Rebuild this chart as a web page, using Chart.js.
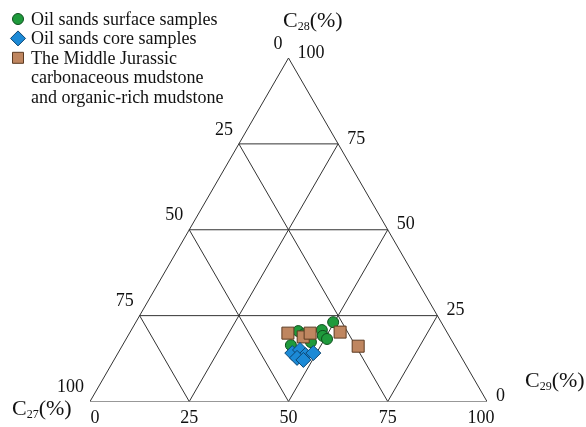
<!DOCTYPE html>
<html>
<head>
<meta charset="utf-8">
<script src="https://cdn.jsdelivr.net/npm/chart.js@4.4.1/dist/chart.umd.min.js"></script>
<style>
  html, body { margin: 0; padding: 0; background: #fff; }
  #wrap { width: 586px; height: 427px; }
</style>
</head>
<body>
<div id="wrap"><canvas id="ternary"></canvas></div>
<script>
// ternary ticks (%)
const tickValues = [0, 25, 50, 75, 100];
const gridLevels = [25, 50, 75];

// Oil sands surface samples (C27, C28, C29 %)
const surfC27 = [27.2, 31.2, 31.8, 31.2, 37.3, 35.7, 41.2, 36.3];
const surfC28 = [23.1, 20.8, 19.1, 18.2, 20.5, 17.3, 16.4, 19.6];
const surfC29 = [49.7, 48.0, 49.1, 50.6, 42.2, 47.0, 42.4, 44.1];

// Oil sands core samples
const coreC27 = [42.0, 39.6, 39.0, 36.7, 41.5, 40.2];
const coreC28 = [14.1, 15.0, 13.5, 14.1, 12.7, 12.1];
const coreC29 = [43.9, 45.4, 47.5, 49.2, 45.8, 47.7];

// Middle Jurassic carbonaceous / organic-rich mudstone
const mudC27 = [40.2, 36.9, 34.6, 26.9, 24.4];
const mudC28 = [19.9, 18.8, 19.9, 20.2, 16.1];
const mudC29 = [39.9, 44.3, 45.5, 52.9, 59.5];

const H = Math.sqrt(3) / 2;

// ternary -> cartesian (C27 at left, C29 at right, C28 at apex)
function tern(c27, c28, c29) {
    const s = c27 + c28 + c29;
    const b = c28 / s * 100, r = c29 / s * 100;
    return { x: r + b / 2, y: b * H };
}

function points(a, b, c) {
    return a.map((v, i) => tern(v, b[i], c[i]));
}

// grid lines + outline
const lineSets = [];
const gridStyle = { type: 'line', borderColor: '#333', borderWidth: 1, pointRadius: 0, fill: false, order: 10 };
lineSets.push(Object.assign({}, gridStyle, {
    data: [tern(100, 0, 0), tern(0, 0, 100), tern(0, 100, 0), tern(100, 0, 0)]
}));
gridLevels.forEach(v => {
    lineSets.push(Object.assign({}, gridStyle, { data: [tern(100 - v, v, 0), tern(0, v, 100 - v)] }));
    lineSets.push(Object.assign({}, gridStyle, { data: [tern(100 - v, 0, v), tern(0, 100 - v, v)] }));
    lineSets.push(Object.assign({}, gridStyle, { data: [tern(v, 0, 100 - v), tern(v, 100 - v, 0)] }));
});

const SERIF = '"Liberation Serif", "Times New Roman", serif';

const legendItems = [
    { lines: ['Oil sands surface samples'], style: 'circle', fill: '#1f9a3c', stroke: '#0e4f1d' },
    { lines: ['Oil sands core samples'], style: 'diamond', fill: '#1c8ad6', stroke: '#0d4672' },
    { lines: ['The Middle Jurassic', 'carbonaceous mudstone', 'and organic-rich mudstone'], style: 'square', fill: '#bf8660', stroke: '#5c3b22' }
];

function marker(ctx, style, x, y, fill, stroke) {
    ctx.save();
    ctx.fillStyle = fill;
    ctx.strokeStyle = stroke;
    ctx.lineWidth = 1;
    ctx.beginPath();
    if (style === 'circle') {
        ctx.arc(x, y, 5.5, 0, Math.PI * 2);
    } else if (style === 'diamond') {
        ctx.moveTo(x, y - 7.5); ctx.lineTo(x + 7.5, y); ctx.lineTo(x, y + 7.5); ctx.lineTo(x - 7.5, y);
        ctx.closePath();
    } else {
        ctx.rect(x - 5.5, y - 5.5, 11, 11);
    }
    ctx.fill();
    ctx.stroke();
    ctx.restore();
}

// "C" with subscript number and "(%)"
function axisTitle(ctx, x, y, sub) {
    ctx.save();
    ctx.fillStyle = '#111';
    ctx.textAlign = 'left';
    ctx.textBaseline = 'alphabetic';
    ctx.font = '22px ' + SERIF;
    ctx.fillText('C', x, y);
    let cx = x + ctx.measureText('C').width;
    ctx.font = '12px ' + SERIF;
    ctx.fillText(sub, cx, y + 3);
    cx += ctx.measureText(sub).width;
    ctx.font = '22px ' + SERIF;
    ctx.fillText('(%)', cx, y);
    ctx.restore();
}

const overlay = {
    id: 'overlay',
    afterDraw(chart) {
        const ctx = chart.ctx;
        const sx = chart.scales.x, sy = chart.scales.y;
        const px = p => ({ x: sx.getPixelForValue(p.x), y: sy.getPixelForValue(p.y) });

        ctx.save();
        ctx.fillStyle = '#111';
        ctx.font = '18px ' + SERIF;
        ctx.textBaseline = 'middle';

        // bottom: C29
        ctx.textAlign = 'center';
        const bShift = [5, 0, 0, 0, -6];
        tickValues.forEach((t, i) => {
            const p = px(tern(100 - t, 0, t));
            ctx.fillText(String(t), p.x + bShift[i], p.y + 17);
        });
        // left: C27
        ctx.textAlign = 'right';
        tickValues.forEach(t => {
            const p = px(tern(t, 100 - t, 0));
            ctx.fillText(String(t), p.x - 6, p.y - 14);
        });
        // right: C28
        ctx.textAlign = 'left';
        tickValues.forEach(t => {
            const p = px(tern(0, t, 100 - t));
            ctx.fillText(String(t), p.x + 9, p.y - 5);
        });
        ctx.restore();

        axisTitle(ctx, 283, 27, '28');
        axisTitle(ctx, 12, 415, '27');
        axisTitle(ctx, 525, 387, '29');

        // legend
        ctx.save();
        ctx.font = '18px ' + SERIF;
        ctx.fillStyle = '#111';
        ctx.textAlign = 'left';
        ctx.textBaseline = 'alphabetic';
        let row = 0;
        legendItems.forEach(it => {
            const base = 25 + row * 19.4;
            marker(ctx, it.style, 18, base - 6, it.fill, it.stroke);
            it.lines.forEach((s, k) => ctx.fillText(s, 31, base + k * 19.4));
            row += it.lines.length;
        });
        ctx.restore();
    }
};

new Chart(document.getElementById('ternary'), {
    type: 'scatter',
    data: {
        datasets: [
            {
                label: 'Oil sands core samples',
                data: points(coreC27, coreC28, coreC29),
                pointStyle: 'rectRot',
                pointRadius: 7.5,
                backgroundColor: '#1c8ad6',
                borderColor: '#0d4672',
                borderWidth: 1,
                order: 1
            },
            {
                label: 'The Middle Jurassic carbonaceous mudstone and organic-rich mudstone',
                data: points(mudC27, mudC28, mudC29),
                pointStyle: 'rect',
                pointRadius: 8.5,
                backgroundColor: '#bf8660',
                borderColor: '#5c3b22',
                borderWidth: 1,
                order: 2
            },
            {
                label: 'Oil sands surface samples',
                data: points(surfC27, surfC28, surfC29),
                pointStyle: 'circle',
                pointRadius: 5.5,
                backgroundColor: '#1f9a3c',
                borderColor: '#0e4f1d',
                borderWidth: 1,
                order: 3
            }
        ].concat(lineSets)
    },
    options: {
        responsive: true,
        maintainAspectRatio: false,
        animation: false,
        layout: { padding: { left: 90, right: 99, top: 58, bottom: 25.5 } },
        plugins: {
            legend: { display: false },
            tooltip: { enabled: false }
        },
        elements: { line: { tension: 0 } },
        scales: {
            x: { type: 'linear', min: 0, max: 100, display: false },
            y: { type: 'linear', min: 0, max: 100 * H, display: false }
        }
    },
    plugins: [overlay]
});
</script>
</body>
</html>
